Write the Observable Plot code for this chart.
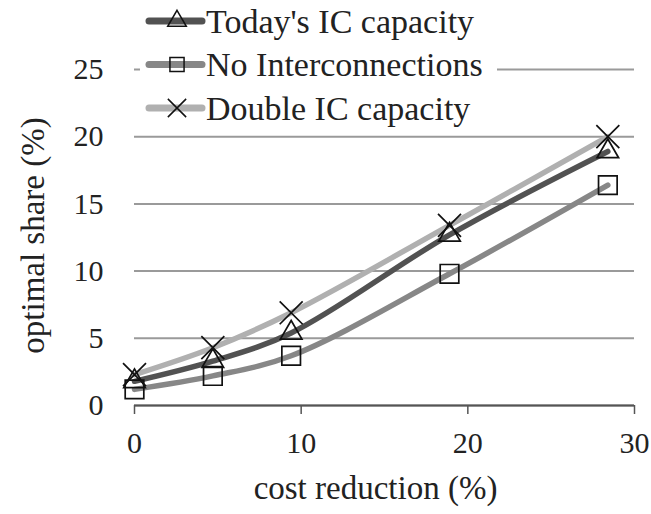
<!DOCTYPE html>
<html><head><meta charset="utf-8">
<script src="https://cdn.jsdelivr.net/npm/d3@7"></script>
<script src="https://cdn.jsdelivr.net/npm/@observablehq/plot@0.6"></script>
<style>body{margin:0;background:#fff}</style>
</head><body><div id="chart"></div>
<script>
const costReduction = [0, 4.7, 9.4, 18.9, 28.4];
const todays = [1.8, 3.3, 5.4, 12.7, 18.9];
const noIC = [1.2, 2.2, 3.7, 9.8, 16.4];
const doubleIC = [2.3, 4.3, 6.9, 13.4, 20.0];
const seriesNames = ["Today's IC capacity", "No Interconnections", "Double IC capacity"];
const seriesColors = ["#525252", "#878787", "#b0b0b0"];
const seriesSymbols = ["triangle", "square", "times"];
const symbolRadius = [8, 10.5, 10.5];
const xTicks = [0, 10, 20, 30];
const yTicks = [0, 5, 10, 15, 20, 25];

const seriesValues = [todays, noIC, doubleIC];
const data = seriesValues.flatMap((vals, i) => vals.map((v, j) => ({series: seriesNames[i], x: costReduction[j], y: v})));

const font = "Liberation Serif, Times New Roman, serif";
const plot = Plot.plot({
  width: 651, height: 514,
  marginLeft: 134, marginRight: 17, marginTop: 69, marginBottom: 109,
  style: {fontFamily: font, fontSize: "30px", color: "#222", background: "#fff"},
  x: {domain: [0, 30], ticks: xTicks, label: null},
  y: {domain: [0, 25], ticks: yTicks, label: null},
  color: {domain: seriesNames, range: seriesColors},
  symbol: {domain: seriesNames, range: seriesSymbols},
  marks: [
    Plot.gridY(yTicks, {stroke: "#9a9a9a", strokeOpacity: 1, strokeWidth: 2}),
    Plot.axisY({ticks: yTicks, tickSize: 0, tickPadding: 31, fontSize: 30, label: null}),
    Plot.axisX({ticks: xTicks, tickSize: 9, tickPadding: 17, fontSize: 30, label: null, stroke: "#555", strokeWidth: 1.5}),
    Plot.ruleY([0], {stroke: "#555", strokeWidth: 2}),
    Plot.line(data, {x: "x", y: "y", z: "series", stroke: "series", strokeWidth: 5.5, curve: "catmull-rom"}),
    ...seriesNames.map((name, i) =>
      Plot.dot(data, {filter: d => d.series === name, x: "x", y: "y", symbol: "series", r: symbolRadius[i], stroke: "#111", fill: "none", strokeWidth: 1.7})),
    Plot.text(["optimal share (%)"], {frameAnchor: "left", textAnchor: "middle", dx: -101, dy: -2, rotate: -90, fontSize: 33}),
    Plot.text(["cost reduction (%)"], {frameAnchor: "bottom", textAnchor: "middle", dx: -9, dy: 93, fontSize: 33})
  ]
});
document.getElementById("chart").appendChild(plot);

// legend drawn into the same svg
const svg = d3.select(plot);
const lg = svg.append("g");
lg.append("rect").attr("x", 140).attr("y", 0).attr("width", 357).attr("height", 128).attr("fill", "#fff");
const symGen = {triangle: d3.symbolTriangle, square: d3.symbolSquare, times: d3.symbolTimes};
const legendSymSize = {triangle: 150, square: 200, times: 220};
seriesNames.forEach((name, i) => {
  const cy = 21 + i * 43.5;
  const g = lg.append("g").attr("transform", `translate(0,${cy})`);
  g.append("line").attr("x1", 149).attr("x2", 202).attr("y1", 0).attr("y2", 0)
    .attr("stroke", seriesColors[i]).attr("stroke-width", 7).attr("stroke-linecap", "round");
  g.append("path").attr("d", d3.symbol(symGen[seriesSymbols[i]], legendSymSize[seriesSymbols[i]])())
    .attr("transform", "translate(177,0)").attr("fill", "none").attr("stroke", "#111").attr("stroke-width", 1.5);
  g.append("text").attr("x", 206).attr("y", 0).attr("dy", "0.35em").attr("text-anchor", "start")
    .attr("font-family", font).attr("font-size", 34).attr("fill", "#222").text(name);
});
</script></body></html>
